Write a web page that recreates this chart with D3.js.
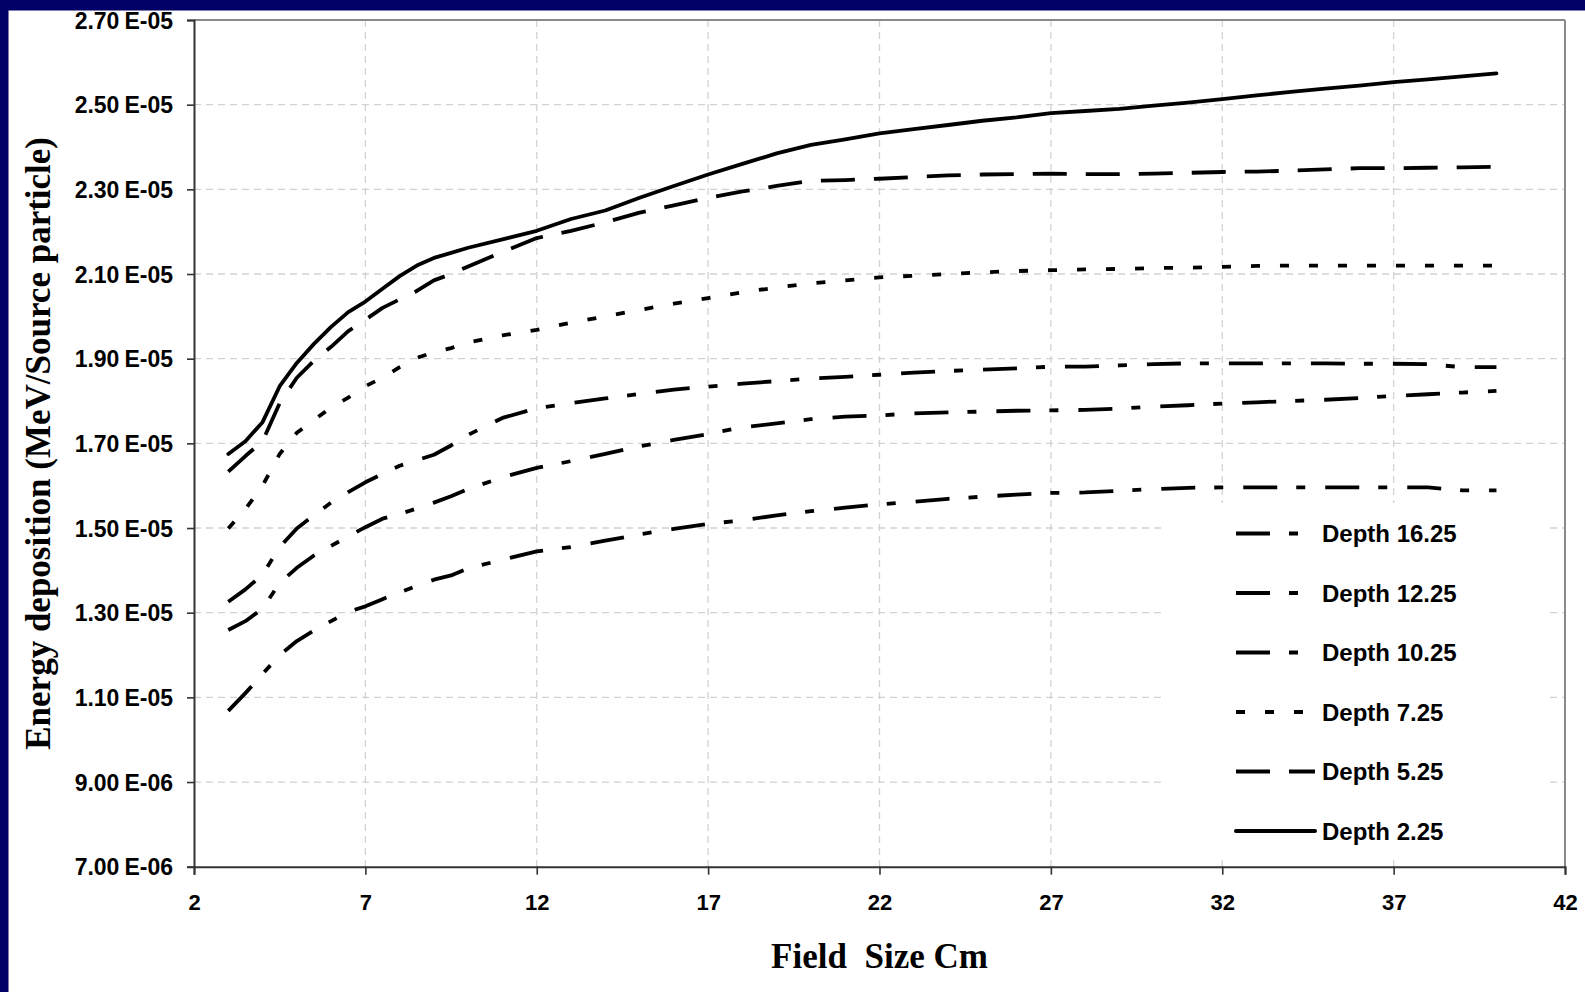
<!DOCTYPE html>
<html>
<head>
<meta charset="utf-8">
<script src="https://cdn.jsdelivr.net/npm/d3@7/dist/d3.min.js"></script>
<style>
  html, body { margin: 0; padding: 0; background: #ffffff; }
  svg { display: block; }
</style>
</head>
<body>
<svg id="chart" width="1585" height="992"></svg>
<script>
// Field sizes (cm) shared by every depth curve
const fieldSize = [3, 3.5, 4, 4.5, 5, 5.5, 6, 6.5, 7, 7.5, 8, 8.5, 9, 9.5, 10,
  11, 12, 13, 14, 15, 16, 17, 18, 19, 20, 21, 22, 23, 24, 25, 26, 27, 28, 29, 30,
  31, 32, 33, 34, 35, 36, 37, 38, 39, 40];

// Energy deposition per source particle, in units of 1E-06 MeV
const UNIT = 1e-6;
const depth2_25 = [16.75, 17.05, 17.5, 18.35, 18.9, 19.35, 19.75, 20.1, 20.35, 20.65, 20.95, 21.2, 21.38, 21.5, 21.62,
  21.82, 22.02, 22.3, 22.5, 22.8, 23.08, 23.35, 23.6, 23.85, 24.05, 24.18, 24.32, 24.42, 24.52, 24.62, 24.7, 24.8, 24.85, 24.9, 24.98,
  25.05, 25.13, 25.22, 25.3, 25.38, 25.45, 25.53, 25.6, 25.67, 25.74];
const depth5_25 = [16.33, 16.7, 17.05, 17.95, 18.55, 18.95, 19.28, 19.65, 19.92, 20.2, 20.4, 20.6, 20.85, 21.0, 21.18,
  21.52, 21.85, 22.02, 22.22, 22.45, 22.62, 22.8, 22.95, 23.08, 23.2, 23.22, 23.25, 23.29, 23.33, 23.35, 23.36, 23.37, 23.36, 23.36, 23.37,
  23.39, 23.41, 23.42, 23.44, 23.47, 23.5, 23.5, 23.51, 23.52, 23.53];
const depth7_25 = [14.99, 15.45, 16.0, 16.75, 17.25, 17.55, 17.85, 18.08, 18.35, 18.55, 18.8, 19.02, 19.15, 19.25, 19.38,
  19.55, 19.68, 19.85, 20.0, 20.15, 20.3, 20.43, 20.57, 20.68, 20.78, 20.85, 20.92, 20.96, 21.0, 21.04, 21.07, 21.09, 21.11, 21.12, 21.14,
  21.15, 21.17, 21.19, 21.2, 21.2, 21.2, 21.2, 21.2, 21.2, 21.2];
const depth10_25 = [13.26, 13.55, 13.9, 14.55, 14.99, 15.3, 15.6, 15.85, 16.08, 16.28, 16.47, 16.6, 16.73, 16.95, 17.2,
  17.6, 17.83, 17.95, 18.06, 18.17, 18.27, 18.34, 18.41, 18.47, 18.53, 18.57, 18.62, 18.67, 18.71, 18.74, 18.77, 18.81, 18.81, 18.84, 18.87,
  18.89, 18.89, 18.89, 18.89, 18.89, 18.88, 18.88, 18.87, 18.8, 18.8];
const depth12_25 = [12.59, 12.8, 13.1, 13.7, 14.06, 14.35, 14.58, 14.8, 15.02, 15.22, 15.33, 15.46, 15.6, 15.75, 15.92,
  16.2, 16.42, 16.58, 16.75, 16.93, 17.08, 17.22, 17.38, 17.47, 17.57, 17.63, 17.66, 17.71, 17.73, 17.75, 17.77, 17.78, 17.79, 17.82, 17.87,
  17.9, 17.94, 17.97, 18.0, 18.03, 18.07, 18.12, 18.16, 18.2, 18.24];
const depth16_25 = [10.68, 11.1, 11.55, 12.0, 12.33, 12.58, 12.8, 13.02, 13.15, 13.32, 13.48, 13.63, 13.78, 13.88, 14.05,
  14.25, 14.45, 14.55, 14.7, 14.85, 14.98, 15.1, 15.18, 15.3, 15.4, 15.48, 15.56, 15.62, 15.69, 15.74, 15.79, 15.83, 15.84, 15.88, 15.92,
  15.95, 15.96, 15.96, 15.96, 15.96, 15.96, 15.96, 15.96, 15.89, 15.89];

// Axis ticks
const xTicks = [2, 7, 12, 17, 22, 27, 32, 37, 42];
const yTicks = [7e-6, 9e-6, 1.1e-5, 1.3e-5, 1.5e-5, 1.7e-5, 1.9e-5, 2.1e-5, 2.3e-5, 2.5e-5, 2.7e-5];
const yTickLabels = ["7.00E-06", "9.00E-06", "1.10E-05", "1.30E-05", "1.50E-05", "1.70E-05",
  "1.90E-05", "2.10E-05", "2.30E-05", "2.50E-05", "2.70E-05"];

// Series in legend order (top to bottom)
const seriesNames = ["Depth 16.25", "Depth 12.25", "Depth 10.25", "Depth 7.25", "Depth 5.25", "Depth 2.25"];
const seriesValues = [depth16_25, depth12_25, depth10_25, depth7_25, depth5_25, depth2_25];
const seriesDash = ["34,19,9,20", "34,19,9,20", "34,19,9,20", "9,20", "34,19", null];

const SANS = "'Liberation Sans', Arial, Helvetica, sans-serif";
const SERIF = "'Liberation Serif', 'Times New Roman', Times, serif";

const svg = d3.select("#chart");
const W = 1585, H = 992;
const plot = { left: 194, right: 1565, top: 20, bottom: 866.7 };

const x = d3.scaleLinear().domain([2, 42]).range([plot.left, plot.right]);
const y = d3.scaleLinear().domain([7e-6, 2.7e-5]).range([plot.bottom, plot.top]);

svg.append("rect").attr("width", W).attr("height", H).attr("fill", "#ffffff");

// Dashed grid
const grid = svg.append("g").attr("stroke", "#d2d2d2").attr("stroke-width", 1.3)
  .attr("stroke-dasharray", "7,5");
grid.selectAll("line.v").data(xTicks.slice(1, -1)).join("line")
  .attr("x1", d => x(d)).attr("x2", d => x(d))
  .attr("y1", plot.top).attr("y2", plot.bottom);
grid.selectAll("line.h").data(yTicks.slice(1, -1)).join("line")
  .attr("x1", plot.left).attr("x2", plot.right)
  .attr("y1", d => y(d)).attr("y2", d => y(d));

// Legend background masks the grid behind it
const legendBox = { x: 1165, y: 503, w: 380, h: 356 };
svg.append("rect")
  .attr("x", legendBox.x).attr("y", legendBox.y)
  .attr("width", legendBox.w).attr("height", legendBox.h)
  .attr("fill", "#ffffff");

// Plot frame: light top/right, dark axes
svg.append("line").attr("x1", plot.left).attr("x2", plot.right)
  .attr("y1", plot.top).attr("y2", plot.top)
  .attr("stroke", "#8a8a8a").attr("stroke-width", 2);
svg.append("line").attr("x1", plot.right).attr("x2", plot.right)
  .attr("y1", plot.top).attr("y2", plot.bottom)
  .attr("stroke", "#8a8a8a").attr("stroke-width", 2);

// Axes
const xAxis = d3.axisBottom(x).tickValues(xTicks).tickSize(8).tickPadding(20).tickFormat(d3.format("d"));
const yAxis = d3.axisLeft(y).tickValues(yTicks).tickSize(7).tickPadding(13).tickFormat("");

const gx = svg.append("g").attr("transform", `translate(0,${plot.bottom})`).call(xAxis);
const gy = svg.append("g").attr("transform", `translate(${plot.left},0)`).call(yAxis);
[gx, gy].forEach(g => {
  g.select(".domain").attr("stroke", "#333333").attr("stroke-width", 2);
  g.selectAll(".tick line").attr("stroke", "#333333").attr("stroke-width", 1.6);
});
gx.selectAll(".tick text")
  .attr("font-family", SANS).attr("font-weight", "bold").attr("font-size", 22).attr("fill", "#000");

// Y tick labels: mantissa and exponent with Excel-style gap
gy.selectAll(".tick").each(function (d, i) {
  const parts = yTickLabels[i].split("E");
  const t = d3.select(this).append("text")
    .attr("x", -21).attr("dy", "0.36em")
    .attr("text-anchor", "end")
    .attr("font-family", SANS).attr("font-weight", "bold").attr("font-size", 23)
    .attr("fill", "#000");
  t.append("tspan").text(parts[0]);
  t.append("tspan").attr("dx", 5).text("E" + parts[1]);
});

// Depth curves
const line = d3.line()
  .x((d, i) => x(fieldSize[i]))
  .y(d => y(d * UNIT));

svg.append("g").selectAll("path").data(seriesValues).join("path")
  .attr("d", d => line(d))
  .attr("fill", "none")
  .attr("stroke", "#000")
  .attr("stroke-width", 3.8)
  .attr("stroke-linejoin", "round")
  .attr("stroke-linecap", (d, i) => seriesDash[i] ? "butt" : "round")
  .attr("stroke-dasharray", (d, i) => seriesDash[i]);

// Legend
const legend = svg.append("g");
const rowY = d3.scaleLinear().domain([0, 5]).range([533.5, 831]);
seriesNames.forEach((name, i) => {
  const cy = rowY(i);
  legend.append("line")
    .attr("x1", 1236).attr("x2", 1315).attr("y1", cy).attr("y2", cy)
    .attr("stroke", "#000").attr("stroke-width", 4)
    .attr("stroke-linecap", seriesDash[i] ? "butt" : "round")
    .attr("stroke-dasharray", seriesDash[i]);
  legend.append("text")
    .attr("x", 1322).attr("y", cy).attr("dy", "0.36em")
    .attr("font-family", SANS).attr("font-weight", "bold").attr("font-size", 24)
    .attr("fill", "#000").text(name);
});

// Axis titles
svg.append("text")
  .attr("x", (plot.left + plot.right) / 2).attr("y", 968)
  .attr("text-anchor", "middle")
  .attr("font-family", SERIF).attr("font-weight", "bold").attr("font-size", 35)
  .style("white-space", "pre")
  .attr("fill", "#000").text("Field  Size Cm");

svg.append("text")
  .attr("transform", `translate(50,${(plot.top + plot.bottom) / 2}) rotate(-90)`)
  .attr("text-anchor", "middle")
  .attr("font-family", SERIF).attr("font-weight", "bold").attr("font-size", 35)
  .attr("fill", "#000").text("Energy deposition (MeV/Source particle)");

// Slide frame band along the top and left edges
svg.append("rect").attr("x", 0).attr("y", 0).attr("width", W).attr("height", 10.5).attr("fill", "#000066");
svg.append("rect").attr("x", 0).attr("y", 0).attr("width", 8.5).attr("height", H).attr("fill", "#000066");
</script>
</body>
</html>
